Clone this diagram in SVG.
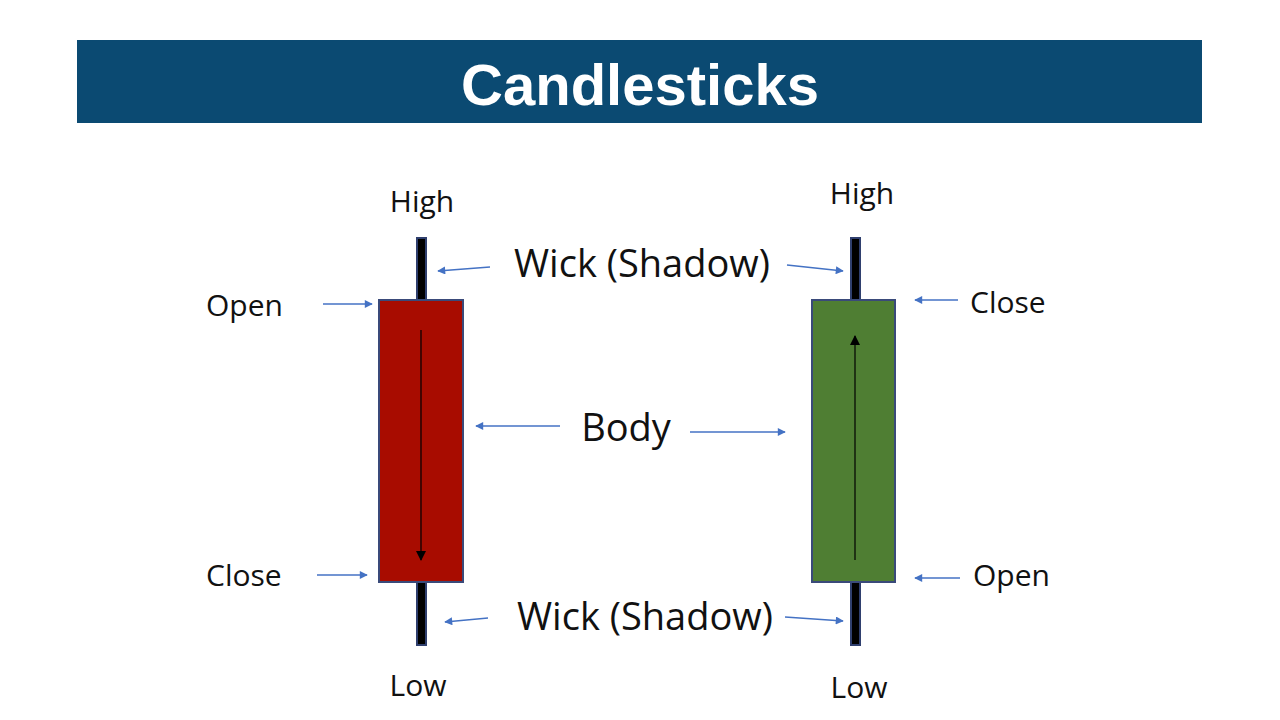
<svg xmlns="http://www.w3.org/2000/svg" width="1280" height="720" viewBox="0 0 1280 720">
<style>
text{font-family:"Open Sans","Noto Sans",sans-serif;fill:#111}
.lbl{font-size:30px}
.big{font-size:38px}
.arr{stroke:#4472C4;stroke-width:1.5;fill:none;marker-end:url(#bh)}
.wick{fill:#000;stroke:#2F3F6E;stroke-width:2}
</style>
<defs>
<marker id="bh" viewBox="0 0 10 10" refX="9" refY="5" markerWidth="10" markerHeight="8" markerUnits="userSpaceOnUse" orient="auto"><path d="M0,0 L10,5 L0,10 z" fill="#4472C4"/></marker>
<marker id="kh" viewBox="0 0 10 10" refX="9" refY="5" markerWidth="12" markerHeight="10" markerUnits="userSpaceOnUse" orient="auto"><path d="M0,0 L10,5 L0,10 z" fill="#000"/></marker>
</defs>
<rect width="1280" height="720" fill="#fff"/>
<g id="title"><rect x="77" y="40" width="1125" height="83" fill="#0B4A72"/>
<text x="640" y="105" text-anchor="middle" style="font-family:'Liberation Sans',Arial,sans-serif;font-weight:bold;font-size:58px;fill:#fff">Candlesticks</text></g>
<g id="bear">
<rect class="wick" x="417" y="238" width="9" height="407"/>
<rect x="379" y="300" width="84" height="282" fill="#A80C00" stroke="#3A4A7A" stroke-width="2"/>
<line x1="421" y1="330" x2="421" y2="560" stroke="#000" stroke-width="1.2" marker-end="url(#kh)"/>
</g>
<g id="bull">
<rect class="wick" x="851" y="238" width="9" height="407"/>
<rect x="812" y="300" width="83" height="282" fill="#4F7E33" stroke="#3A4A7A" stroke-width="2"/>
<line x1="855" y1="560" x2="855" y2="336" stroke="#000" stroke-width="1.2" marker-end="url(#kh)"/>
</g>
<g id="labels">
<text class="lbl" x="422" y="212" text-anchor="middle">High</text>
<text class="lbl" x="862" y="204" text-anchor="middle">High</text>
<text class="lbl" x="418" y="696" text-anchor="middle">Low</text>
<text class="lbl" x="859" y="698" text-anchor="middle">Low</text>
<text class="lbl" x="206" y="316">Open</text>
<text class="lbl" x="206" y="586">Close</text>
<text class="lbl" x="970" y="313">Close</text>
<text class="lbl" x="973" y="586">Open</text>
<text class="big" x="642" y="277" text-anchor="middle">Wick (Shadow)</text>
<text class="big" x="645" y="630" text-anchor="middle">Wick (Shadow)</text>
<text class="big" x="626" y="441" text-anchor="middle">Body</text>
</g>
<g id="connectors">
<line class="arr" x1="490" y1="267" x2="438" y2="271"/>
<line class="arr" x1="787" y1="265" x2="843" y2="271"/>
<line class="arr" x1="323" y1="304" x2="372" y2="304"/>
<line class="arr" x1="958" y1="300" x2="915" y2="300"/>
<line class="arr" x1="560" y1="426" x2="476" y2="426"/>
<line class="arr" x1="690" y1="432" x2="785" y2="432"/>
<line class="arr" x1="317" y1="575" x2="367" y2="575"/>
<line class="arr" x1="960" y1="578" x2="915" y2="578"/>
<line class="arr" x1="488" y1="618" x2="445" y2="622"/>
<line class="arr" x1="785" y1="617" x2="843" y2="621"/>
</g>
</svg>
